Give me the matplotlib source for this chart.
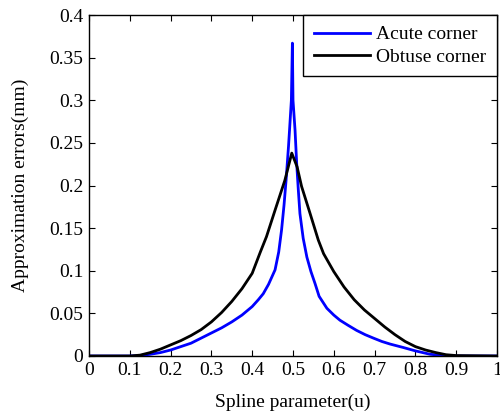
import matplotlib
matplotlib.use('Agg')
import matplotlib.pyplot as plt
from matplotlib.ticker import FuncFormatter

# acute corner curve
u_acute = [0.0, 0.10, 0.125, 0.15, 0.175, 0.20, 0.225, 0.25, 0.275, 0.30, 0.325, 0.35,
           0.375, 0.40, 0.415, 0.427, 0.44, 0.456, 0.465, 0.472, 0.478, 0.483, 0.489,
           0.4915, 0.496, 0.4985, 0.500, 0.505, 0.509, 0.513, 0.517, 0.525, 0.534,
           0.544, 0.554, 0.564, 0.583, 0.60, 0.615, 0.635, 0.656, 0.677, 0.697, 0.718,
           0.738, 0.77, 0.80, 0.836, 0.87, 0.90, 1.0]
v_acute = [0.0, 0.0, 0.0005, 0.002, 0.004, 0.007, 0.011, 0.015, 0.021, 0.027, 0.033, 0.040,
           0.048, 0.058, 0.066, 0.073, 0.084, 0.101, 0.122, 0.148, 0.177, 0.206, 0.246,
           0.265, 0.30, 0.367, 0.30, 0.265, 0.226, 0.195, 0.167, 0.138, 0.116,
           0.099, 0.085, 0.070, 0.056, 0.048, 0.042, 0.036, 0.030, 0.025, 0.021, 0.017,
           0.014, 0.010, 0.006, 0.002, 0.0005, 0.0, 0.0]

# obtuse corner curve
u_obtuse = [0.0, 0.10, 0.125, 0.15, 0.175, 0.20, 0.225, 0.25, 0.275, 0.30, 0.325, 0.35,
            0.375, 0.40, 0.42, 0.435, 0.456, 0.48, 0.497, 0.51, 0.521, 0.542, 0.562,
            0.575, 0.60, 0.625, 0.65, 0.675, 0.70, 0.725, 0.75, 0.775, 0.80, 0.825,
            0.85, 0.875, 0.90, 1.0]
v_obtuse = [0.0, 0.0, 0.001, 0.004, 0.008, 0.013, 0.018, 0.024, 0.031, 0.040, 0.051, 0.064,
            0.079, 0.097, 0.122, 0.140, 0.171, 0.206, 0.238, 0.222, 0.199, 0.167, 0.136,
            0.120, 0.099, 0.081, 0.066, 0.054, 0.044, 0.034, 0.025, 0.017, 0.011, 0.007,
            0.004, 0.0015, 0.0005, 0.0]

x_ticks = [0, 0.1, 0.2, 0.3, 0.4, 0.5, 0.6, 0.7, 0.8, 0.9, 1.0]
y_ticks = [0, 0.05, 0.1, 0.15, 0.2, 0.25, 0.3, 0.35, 0.4]

plt.rcParams['font.family'] = ['Liberation Serif', 'DejaVu Serif']
plt.rcParams['font.size'] = 14

fig = plt.figure(figsize=(5.0, 4.17), dpi=100)
ax = fig.add_axes([0.178, 0.1463, 0.816, 0.8177])

ax.plot(u_acute, v_acute, color='#0000ff', lw=2.0, label='Acute corner')
ax.plot(u_obtuse, v_obtuse, color='black', lw=2.0, label='Obtuse corner')

ax.set_xlim(0, 1)
ax.set_ylim(0, 0.4)
ax.set_xticks(x_ticks)
ax.set_yticks(y_ticks)
fmt = FuncFormatter(lambda v, p: ('%g' % v))
ax.xaxis.set_major_formatter(fmt)
ax.yaxis.set_major_formatter(fmt)
ax.tick_params(direction='in', top=True, right=True, length=4, width=0.8, pad=4)
for s in ax.spines.values():
    s.set_linewidth(1.0)

ax.set_xlabel('Spline parameter(u)', labelpad=11)
ax.set_ylabel('Approximation errors(mm)', labelpad=15)

leg = ax.legend(loc='upper right', fancybox=False, framealpha=1, edgecolor='black',
                borderaxespad=0, handlelength=2.9, borderpad=0.55, labelspacing=0.25,
                handletextpad=0.3)
leg.get_frame().set_linewidth(1.0)

fig.savefig('out.png', dpi=100)
